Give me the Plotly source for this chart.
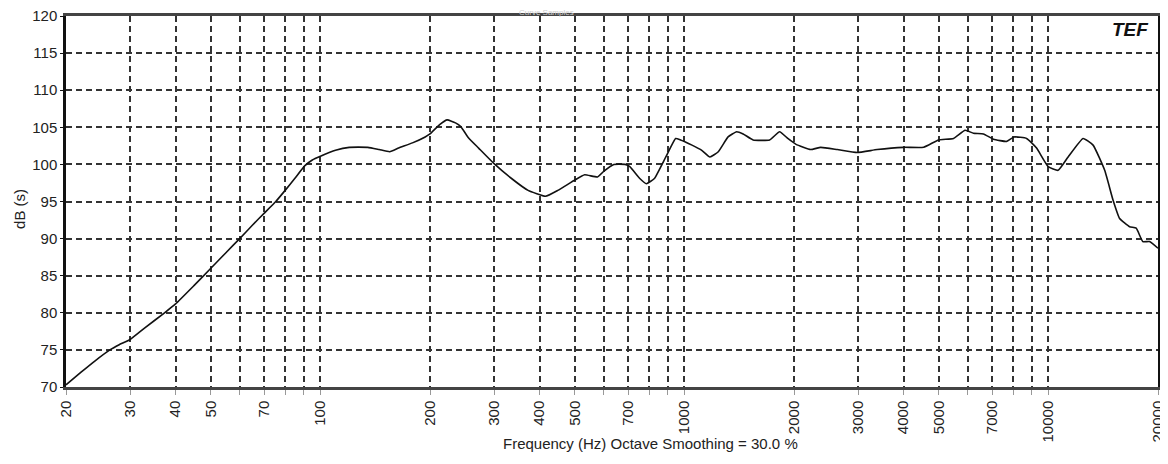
import plotly.graph_objects as go

# Frequency response (Hz, dB)
freq_hz = [20, 22, 24, 26.4, 28, 30, 33, 37.3, 40, 45, 50, 55, 60, 65, 70, 75.4, 80, 85, 90.5, 95,
           100, 110, 120, 135, 145, 155, 164, 179, 194, 200, 213, 223, 235, 243, 255, 272, 300, 335, 372,
           415, 449, 500, 532, 577, 601, 640, 687, 708, 754, 786, 827, 889, 946, 976, 1049, 1116, 1175,
           1239, 1318, 1391, 1450, 1544, 1714, 1826, 1923, 2026, 2222, 2367, 2630, 2983, 3384, 4002,
           4541, 4992, 5485, 5903, 6224, 6630, 7061, 7678, 8042, 8711, 9278, 9985, 10634, 11327, 12452,
           13264, 14276, 15046, 15690, 16709, 17425, 18168, 18950, 20000]
level_db = [70.3, 72.0, 73.5, 75.0, 75.7, 76.4, 78.0, 80.0, 81.2, 83.7, 86.0, 88.1, 90.0, 91.8, 93.4,
            95.0, 96.5, 98.1, 99.8, 100.6, 101.1, 101.9, 102.3, 102.3, 102.0, 101.7, 102.2, 102.9, 103.7,
            104.1, 105.4, 106.0, 105.6, 105.1, 103.6, 102.2, 100.1, 98.1, 96.5, 95.7, 96.5, 97.9, 98.6,
            98.3, 99.1, 100.0, 100.0, 99.7, 98.1, 97.4, 98.1, 101.0, 103.5, 103.3, 102.6, 101.9, 101.0,
            101.7, 103.7, 104.4, 104.1, 103.3, 103.3, 104.4, 103.5, 102.7, 102.0, 102.3, 102.0, 101.6,
            102.0, 102.3, 102.3, 103.3, 103.5, 104.6, 104.2, 104.1, 103.4, 103.1, 103.7, 103.5, 102.2,
            99.7, 99.2, 101.0, 103.5, 102.6, 99.2, 95.2, 92.7, 91.6, 91.4, 89.6, 89.6, 88.7]

grid_hz = [20, 30, 40, 50, 60, 70, 80, 90, 100, 200, 300, 400, 500, 600, 700, 800, 900, 1000,
           2000, 3000, 4000, 5000, 6000, 7000, 8000, 9000, 10000, 20000]
labelled_hz = [20, 30, 40, 50, 70, 100, 200, 300, 400, 500, 700, 1000, 2000, 3000, 4000, 5000,
               7000, 10000, 20000]
y_ticks = [70, 75, 80, 85, 90, 95, 100, 105, 110, 115, 120]

x_title = "Frequency (Hz) Octave Smoothing = 30.0 %"
y_title = "dB (s)"
chart_title = "Curve Samples"
logo_text = "TEF"

tick_text = [str(v) if v in labelled_hz else "" for v in grid_hz]

font_family = "Arial, Liberation Sans, sans-serif"

fig = go.Figure()
fig.add_trace(go.Scatter(
    x=freq_hz, y=level_db, mode="lines",
    line=dict(color="#111111", width=1.6, shape="spline", smoothing=0.4),
    hoverinfo="x+y", showlegend=False,
))

# the page body adds an 8px offset; size the figure so the plot area lands where the reference has it
fig.update_layout(
    width=1160, height=448,
    margin=dict(l=58, r=10, t=8, b=69),
    paper_bgcolor="white", plot_bgcolor="white",
    font=dict(family=font_family, size=15, color="#222222"),
    showlegend=False,
)

fig.update_xaxes(
    type="log",
    range=[1.30103, 4.30103],
    tickvals=grid_hz, ticktext=tick_text,
    tickangle=-90,
    tickfont=dict(size=15, color="#222222"),
    ticks="outside", ticklen=5, tickcolor="#999999", tickwidth=1,
    ticklabeloverflow="allow",
    showgrid=True, gridcolor="#333333", gridwidth=1.5, griddash="6px,4px",
    showline=True, linecolor="#444444", linewidth=2.5, mirror=True,
    zeroline=False, automargin=False,
)
fig.update_yaxes(
    range=[70, 120],
    tickvals=y_ticks,
    tickfont=dict(size=15, color="#222222"),
    ticks="outside", ticklen=3, tickcolor="#111111",
    ticklabeloverflow="allow",
    showgrid=True, gridcolor="#333333", gridwidth=1.5, griddash="6px,4px",
    showline=True, linecolor="#111111", linewidth=2.5, mirror=True,
    zeroline=False, automargin=False,
)

# axis titles
fig.add_annotation(
    text=x_title, xref="paper", yref="paper", x=0.535, y=0, yshift=-56,
    xanchor="center", yanchor="middle", showarrow=False,
    font=dict(size=15, color="#222222", family=font_family),
)
fig.add_annotation(
    text=y_title, xref="paper", yref="paper", x=0, xshift=-46, y=0.48,
    xanchor="center", yanchor="middle", showarrow=False, textangle=-90,
    font=dict(size=15, color="#222222", family=font_family),
)
# faint title at the very top of the page
fig.add_annotation(
    text=chart_title, xref="paper", yref="paper", x=0.44, y=1.0, yshift=4,
    xanchor="center", yanchor="middle", showarrow=False,
    font=dict(size=8, color="#cccccc", family=font_family),
)
# TEF logo
fig.add_annotation(
    text="<b><i>" + logo_text + "</i></b>", xref="paper", yref="paper", x=0.994, y=0.997,
    xanchor="right", yanchor="top", showarrow=False, bgcolor="white",
    font=dict(size=19, color="#111111", family=font_family),
)

fig.write_html("out.html")
